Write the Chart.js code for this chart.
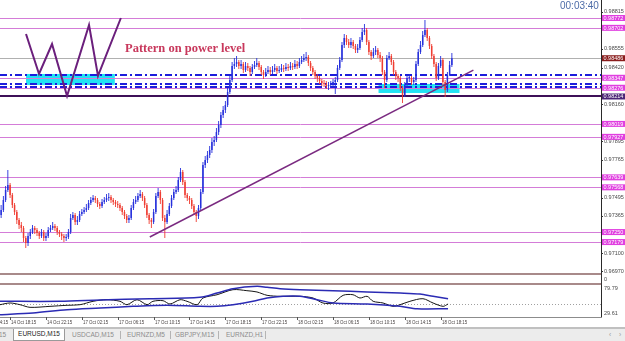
<!DOCTYPE html>
<html><head><meta charset="utf-8">
<script src="https://cdn.jsdelivr.net/npm/chart.js@4.4.1/dist/chart.umd.min.js"></script>
<style>
html,body{margin:0;padding:0;background:#fff;width:625px;height:341px;overflow:hidden;position:relative;font-family:"Liberation Sans",Arial,sans-serif}
canvas{position:absolute;left:0}
#main{top:0}
#osc{top:285px}
.sep{position:absolute;left:0;width:601px;height:2px;background:#a88a8a}
.vline{position:absolute;left:601px;top:273px;width:1px;height:12px;background:#333}
#clock{position:absolute;left:560px;top:1px;font:10px "Liberation Sans";color:#4d6ca8;line-height:10px}
#note{position:absolute;left:125px;top:42px;font:bold 12.5px "Liberation Serif";color:#c8385c;white-space:nowrap;line-height:13px}
#zero{position:absolute;left:604px;top:276px;font:5.5px "Liberation Sans";color:#444}
#tabbar{position:absolute;left:0;top:327px;width:625px;height:12px;background:#ececec;border-top:2px solid #c0c0c0}
.tab{position:absolute;top:1px;height:10px;font:6.5px "Liberation Sans";line-height:10px;color:#8c8c8c;white-space:nowrap}
.tsep{position:absolute;top:2px;width:1px;height:8px;background:#b4b4b4}
#active{left:13px;width:50px;top:0;height:11px;background:#fff;border-left:1px solid #9a9a9a;border-right:1px solid #9a9a9a;border-bottom:1px solid #9a9a9a;color:#222;text-align:center}
</style></head><body>
<canvas id="main" width="625" height="275"></canvas>
<canvas id="osc" width="625" height="44"></canvas>
<div class="sep" style="top:273px"></div>
<div class="sep" style="top:283px"></div>
<div class="vline"></div>
<div id="clock">00:03:40</div>
<div id="note">Pattern on power level</div>
<div id="zero">0</div>
<div id="tabbar">
  <div class="tab" style="left:-1px">15</div>
  <div class="tab" id="active">EURUSD,M15</div>
  <div class="tab" style="left:72px">USDCAD,M15</div>
  <div class="tsep" style="left:120px"></div>
  <div class="tab" style="left:127px">EURNZD,M5</div>
  <div class="tsep" style="left:170px"></div>
  <div class="tab" style="left:175px">GBPJPY,M15</div>
  <div class="tsep" style="left:218px"></div>
  <div class="tab" style="left:226px">EURNZD,H1</div>
  <div class="tsep" style="left:265px"></div>
  <div class="tab" style="left:609px;color:#999">‹</div>
  <div class="tab" style="left:619px;color:#999">›</div>
</div>
<script>
// ---------- price data (EURUSD M15), one entry per bar ----------
const opens = [
0.97371,0.97407,0.97478,0.97549,0.97585,0.97514,0.97442,0.97393,0.97336,0.97300,
0.97279,0.97208,0.97172,0.97222,0.97250,0.97279,0.97265,0.97243,0.97222,0.97250,
0.97208,0.97222,0.97265,0.97279,0.97293,0.97279,0.97250,0.97236,0.97222,0.97208,
0.97215,0.97250,0.97350,0.97371,0.97322,0.97336,0.97378,0.97393,0.97407,0.97421,
0.97457,0.97478,0.97492,0.97478,0.97450,0.97435,0.97464,0.97478,0.97492,0.97499,
0.97478,0.97464,0.97450,0.97442,0.97421,0.97393,0.97364,0.97336,0.97350,0.97421,
0.97464,0.97478,0.97506,0.97521,0.97492,0.97442,0.97371,0.97336,0.97322,0.97393,
0.97506,0.97535,0.97478,0.97350,0.97322,0.97378,0.97435,0.97492,0.97535,0.97549,
0.97620,0.97677,0.97606,0.97514,0.97492,0.97478,0.97435,0.97393,0.97364,0.97421,
0.97535,0.97727,0.97762,0.97798,0.97834,0.97890,0.97905,0.97961,0.98011,0.98082,
0.98118,0.98153,0.98246,0.98331,0.98431,0.98445,0.98459,0.98431,0.98445,0.98402,
0.98431,0.98417,0.98388,0.98424,0.98438,0.98452,0.98424,0.98388,0.98367,0.98388,
0.98402,0.98388,0.98402,0.98417,0.98395,0.98402,0.98417,0.98409,0.98424,0.98417,
0.98431,0.98424,0.98445,0.98431,0.98459,0.98473,0.98488,0.98495,0.98452,0.98417,
0.98388,0.98360,0.98345,0.98324,0.98310,0.98303,0.98289,0.98296,0.98303,0.98317,
0.98331,0.98417,0.98473,0.98580,0.98630,0.98601,0.98580,0.98601,0.98573,0.98545,
0.98559,0.98616,0.98672,0.98687,0.98601,0.98530,0.98502,0.98530,0.98545,0.98509,
0.98488,0.98388,0.98331,0.98488,0.98502,0.98459,0.98388,0.98360,0.98345,0.98274,
0.98225,0.98296,0.98345,0.98345,0.98317,0.98331,0.98445,0.98530,0.98580,0.98651,
0.98687,0.98630,0.98573,0.98502,0.98445,0.98345,0.98431,0.98473,0.98317,0.98260,
0.98367,0.98438];
const highs = [
0.97442,0.97506,0.97578,0.97691,0.97599,0.97528,0.97457,0.97407,0.97350,0.97322,
0.97293,0.97222,0.97243,0.97272,0.97300,0.97293,0.97279,0.97258,0.97272,0.97265,
0.97243,0.97286,0.97300,0.97322,0.97307,0.97293,0.97265,0.97250,0.97236,0.97236,
0.97272,0.97378,0.97393,0.97386,0.97364,0.97400,0.97414,0.97428,0.97450,0.97478,
0.97499,0.97514,0.97506,0.97492,0.97464,0.97485,0.97499,0.97521,0.97528,0.97514,
0.97492,0.97478,0.97471,0.97457,0.97435,0.97407,0.97378,0.97371,0.97442,0.97485,
0.97506,0.97528,0.97549,0.97535,0.97506,0.97457,0.97386,0.97350,0.97414,0.97528,
0.97563,0.97549,0.97492,0.97371,0.97407,0.97457,0.97514,0.97556,0.97578,0.97642,
0.97706,0.97691,0.97620,0.97528,0.97506,0.97492,0.97450,0.97407,0.97442,0.97556,
0.97748,0.97791,0.97826,0.97862,0.97919,0.97933,0.97990,0.98040,0.98104,0.98146,
0.98182,0.98274,0.98360,0.98459,0.98488,0.98502,0.98473,0.98473,0.98459,0.98459,
0.98452,0.98431,0.98445,0.98466,0.98488,0.98466,0.98438,0.98402,0.98417,0.98431,
0.98424,0.98431,0.98445,0.98431,0.98431,0.98445,0.98438,0.98452,0.98445,0.98459,
0.98452,0.98473,0.98466,0.98488,0.98502,0.98516,0.98530,0.98509,0.98466,0.98431,
0.98402,0.98374,0.98360,0.98338,0.98331,0.98324,0.98317,0.98324,0.98338,0.98353,
0.98438,0.98495,0.98601,0.98658,0.98651,0.98623,0.98630,0.98616,0.98587,0.98587,
0.98637,0.98701,0.98729,0.98701,0.98616,0.98545,0.98559,0.98573,0.98559,0.98530,
0.98502,0.98402,0.98509,0.98530,0.98516,0.98473,0.98402,0.98374,0.98360,0.98289,
0.98317,0.98367,0.98374,0.98360,0.98353,0.98466,0.98552,0.98608,0.98680,0.98758,
0.98701,0.98644,0.98587,0.98516,0.98459,0.98452,0.98502,0.98488,0.98331,0.98388,
0.98466,0.98523];
const lows = [
0.97350,0.97393,0.97464,0.97535,0.97492,0.97421,0.97371,0.97307,0.97272,0.97250,
0.97179,0.97137,0.97151,0.97201,0.97236,0.97236,0.97222,0.97201,0.97208,0.97186,
0.97186,0.97208,0.97250,0.97265,0.97258,0.97229,0.97215,0.97194,0.97179,0.97186,
0.97201,0.97236,0.97336,0.97300,0.97300,0.97322,0.97364,0.97378,0.97393,0.97407,
0.97442,0.97464,0.97457,0.97428,0.97414,0.97421,0.97450,0.97464,0.97471,0.97457,
0.97442,0.97428,0.97421,0.97400,0.97371,0.97343,0.97314,0.97314,0.97336,0.97407,
0.97450,0.97464,0.97492,0.97471,0.97421,0.97350,0.97307,0.97279,0.97307,0.97378,
0.97492,0.97450,0.97329,0.97208,0.97307,0.97364,0.97421,0.97478,0.97521,0.97535,
0.97606,0.97585,0.97492,0.97471,0.97450,0.97414,0.97371,0.97322,0.97343,0.97407,
0.97521,0.97706,0.97741,0.97777,0.97812,0.97862,0.97890,0.97940,0.97990,0.98061,
0.98097,0.98139,0.98232,0.98317,0.98409,0.98424,0.98409,0.98409,0.98381,0.98388,
0.98395,0.98360,0.98374,0.98409,0.98424,0.98402,0.98367,0.98338,0.98353,0.98374,
0.98367,0.98374,0.98388,0.98374,0.98381,0.98388,0.98388,0.98395,0.98395,0.98402,
0.98402,0.98409,0.98409,0.98417,0.98445,0.98459,0.98466,0.98431,0.98395,0.98367,
0.98338,0.98317,0.98303,0.98289,0.98281,0.98267,0.98260,0.98274,0.98281,0.98232,
0.98317,0.98402,0.98459,0.98559,0.98580,0.98559,0.98559,0.98552,0.98523,0.98523,
0.98545,0.98601,0.98651,0.98580,0.98509,0.98473,0.98488,0.98509,0.98488,0.98459,
0.98367,0.98274,0.98317,0.98473,0.98438,0.98367,0.98331,0.98317,0.98253,0.98168,
0.98210,0.98274,0.98317,0.98296,0.98296,0.98317,0.98431,0.98516,0.98566,0.98637,
0.98608,0.98552,0.98481,0.98424,0.98324,0.98331,0.98417,0.98296,0.98210,0.98246,
0.98360,0.98424];
const closes = [
0.97407,0.97478,0.97549,0.97585,0.97514,0.97442,0.97393,0.97336,0.97300,0.97279,
0.97208,0.97172,0.97222,0.97250,0.97279,0.97265,0.97243,0.97222,0.97250,0.97208,
0.97222,0.97265,0.97279,0.97293,0.97279,0.97250,0.97236,0.97222,0.97208,0.97215,
0.97250,0.97350,0.97371,0.97322,0.97336,0.97378,0.97393,0.97407,0.97421,0.97457,
0.97478,0.97492,0.97478,0.97450,0.97435,0.97464,0.97478,0.97492,0.97499,0.97478,
0.97464,0.97450,0.97442,0.97421,0.97393,0.97364,0.97336,0.97350,0.97421,0.97464,
0.97478,0.97506,0.97521,0.97492,0.97442,0.97371,0.97336,0.97322,0.97393,0.97506,
0.97535,0.97478,0.97350,0.97322,0.97378,0.97435,0.97492,0.97535,0.97549,0.97620,
0.97677,0.97606,0.97514,0.97492,0.97478,0.97435,0.97393,0.97364,0.97421,0.97535,
0.97727,0.97762,0.97798,0.97834,0.97890,0.97905,0.97961,0.98011,0.98082,0.98118,
0.98153,0.98246,0.98331,0.98431,0.98445,0.98459,0.98431,0.98445,0.98402,0.98431,
0.98417,0.98388,0.98424,0.98438,0.98452,0.98424,0.98388,0.98367,0.98388,0.98402,
0.98388,0.98402,0.98417,0.98395,0.98402,0.98417,0.98409,0.98424,0.98417,0.98431,
0.98424,0.98445,0.98431,0.98459,0.98473,0.98488,0.98495,0.98452,0.98417,0.98388,
0.98360,0.98345,0.98324,0.98310,0.98303,0.98289,0.98296,0.98303,0.98317,0.98331,
0.98417,0.98473,0.98580,0.98630,0.98601,0.98580,0.98601,0.98573,0.98545,0.98559,
0.98616,0.98672,0.98687,0.98601,0.98530,0.98502,0.98530,0.98545,0.98509,0.98488,
0.98388,0.98331,0.98488,0.98502,0.98459,0.98388,0.98360,0.98345,0.98274,0.98225,
0.98296,0.98345,0.98345,0.98317,0.98331,0.98445,0.98530,0.98580,0.98651,0.98687,
0.98630,0.98573,0.98502,0.98445,0.98345,0.98431,0.98473,0.98317,0.98260,0.98367,
0.98438,0.98486];

// ---------- levels / drawings ----------
const pinkLevels = [0.98772,0.98702,0.98347,0.98276,0.98019,0.97927,0.97639,0.97568,0.97250,0.97179];
const blueDashLevels = [0.98367,0.98303,0.98281];
const supportLevel = 0.98214;
const bidPrice = 0.98486;
const priceTicks = [0.98815,0.98555,0.98420,0.98160,0.97895,0.97765,0.97495,0.97365,0.97100,0.96970];
const zoneStartBar = [11.1,168.3];
const zoneEndBar = [50.7,204.4];
const zoneTop = [0.98374,0.98303];
const zoneBottom = [0.98296,0.98239];
const zigBars = [11.1,16.9,22.7,29.4,39.2,43.2,53.4];
const zigPrices = [0.98658,0.98374,0.98587,0.98217,0.98722,0.98360,0.98772];
const trendBars = [66.3,210.6];
const trendPrices = [0.97215,0.98402];

// ---------- time axis ----------
const timeTickBars = [-8.5,4,20,36,52,68,84,100,116,132,148,164,180,196];
const timeTickLabels = ['14 Oct 14:15','14 Oct 18:15','14 Oct 22:15','17 Oct 02:15','17 Oct 06:15','17 Oct 10:15','17 Oct 14:15','17 Oct 18:15','17 Oct 22:15','18 Oct 02:15','18 Oct 06:15','18 Oct 10:15','18 Oct 14:15','18 Oct 18:15'];

// ---------- oscillator window ----------
const upperBandBars = [-0.5,26.3,44.1,66.4,88.7,96.3,103.4,114.1,118.6,124.4,133.3,148.0,163.2,177.9,186.8,192.6,199.3];
const upperBandVals = [53.1,53.1,55.7,58.3,61.1,69.7,78.4,83.2,81.2,78.4,76.4,74.4,71.8,69.7,67.7,63.1,58.3];
const lowerBandBars = [-0.5,14.2,29.4,44.1,58.8,74.0,88.7,96.3,103.4,112.3,118.6,125.7,133.3,140.9,148.0,163.2,177.9,185.5,199.3];
const lowerBandVals = [26.2,29.6,36.2,39.6,43.0,45.1,43.0,43.0,46.3,53.1,59.7,63.1,63.1,56.3,49.7,47.7,43.0,38.2,38.2];
const oscBars = [-0.5,4.0,8.4,12.9,21.8,29.4,35.2,41.0,47.2,53.0,56.1,60.6,65.1,67.7,72.2,75.3,79.8,82.9,87.4,90.0,96.3,103.4,109.6,114.1,118.6,124.4,133.3,139.1,143.5,148.0,152.5,156.9,160.0,163.2,165.9,170.3,174.8,177.9,182.3,188.1,192.6,197.1,199.3];
const oscVals = [46.3,49.7,46.3,41.0,43.0,45.1,46.3,53.1,56.3,53.1,46.3,56.3,46.3,53.1,54.3,47.7,56.3,53.1,46.3,59.7,66.3,76.4,74.4,71.8,65.1,63.1,63.1,59.7,49.7,49.7,65.1,66.3,59.7,63.1,53.1,49.7,43.0,46.3,53.1,58.3,49.7,43.0,47.7];
const oscMidLevel = 48;
const oscAxisLabels = [79.79,29.61];

// ---------- styling ----------
const UP = '#2630dc', DOWN = '#ef3d32';
const candleColor = c => (c.dataIndex !== undefined && closes[c.dataIndex] < opens[c.dataIndex]) ? DOWN : UP;
const X_MIN = -0.5, X_MAX = 267.5;

const mainDeco = {
  id: 'mainDeco',
  beforeDatasetsDraw(chart) {
    const {ctx, chartArea: a, scales: {x, y}} = chart;
    ctx.save();
    ctx.fillStyle = '#22e3f3';
    zoneStartBar.forEach((b, i) => {
      const x1 = x.getPixelForValue(b), x2 = x.getPixelForValue(zoneEndBar[i]);
      const y1 = y.getPixelForValue(zoneTop[i]), y2 = y.getPixelForValue(zoneBottom[i]);
      ctx.fillRect(x1, y1, x2 - x1, y2 - y1);
    });
    const hline = (p, color, w, dash) => {
      const yy = Math.round(y.getPixelForValue(p)) + (w % 2 ? 0.5 : 0);
      ctx.beginPath(); ctx.setLineDash(dash || []); ctx.strokeStyle = color; ctx.lineWidth = w;
      ctx.moveTo(a.left, yy); ctx.lineTo(a.right, yy); ctx.stroke();
    };
    hline(bidPrice, '#b0b0b0', 1);
    pinkLevels.forEach(p => hline(p, '#d47cd8', 1));
    hline(supportLevel, '#3e1058', 2);
    blueDashLevels.forEach(p => hline(p, '#1c1cdc', 2, [7, 3, 2, 3]));
    ctx.restore();
  },
  afterDraw(chart) {
    const {ctx, chartArea: a, scales: {y}} = chart;
    ctx.save();
    ctx.font = '5.5px "Liberation Sans"'; ctx.textBaseline = 'middle'; ctx.textAlign = 'left';
    const ax = a.right;
    priceTicks.forEach(p => {
      const yy = y.getPixelForValue(p);
      ctx.fillStyle = '#333'; ctx.fillRect(ax, Math.round(yy), 2, 1);
      ctx.fillStyle = '#4a4a4a'; ctx.fillText(p.toFixed(5), ax + 3, yy);
    });
    const box = (p, bg) => {
      const yy = y.getPixelForValue(p);
      ctx.fillStyle = bg; ctx.fillRect(ax + 1, yy - 3, 23, 6);
      ctx.fillStyle = '#fff'; ctx.fillText(p.toFixed(5), ax + 2.5, yy + 0.3);
    };
    pinkLevels.forEach(p => box(p, '#e03ee0'));
    box(supportLevel, '#4b2577');
    box(bidPrice, '#8a1c1c');
    ctx.restore();
  }
};

new Chart(document.getElementById('main'), {
  type: 'bar',
  data: {
    datasets: [
      { type: 'line', data: zigBars.map((b, i) => ({x: b, y: zigPrices[i]})), borderColor: '#6b1f7c', borderWidth: 2, pointRadius: 0, tension: 0, order: 0 },
      { type: 'line', data: trendBars.map((b, i) => ({x: b, y: trendPrices[i]})), borderColor: '#7a2a80', borderWidth: 1.5, pointRadius: 0, tension: 0, order: 0 },
      { data: opens.map((o, i) => ({x: i, y: [o, closes[i]]})), backgroundColor: candleColor, maxBarThickness: 1.5, minBarLength: 1, grouped: false, categoryPercentage: 1, barPercentage: 1, borderWidth: 0, inflateAmount: 0, order: 1 },
      { data: lows.map((l, i) => ({x: i, y: [l, highs[i]]})), backgroundColor: candleColor, maxBarThickness: 0.9, grouped: false, categoryPercentage: 1, barPercentage: 1, borderWidth: 0, inflateAmount: 0, order: 2 }
    ]
  },
  options: {
    responsive: false, animation: false, events: [],
    layout: { padding: { left: 0, right: 0, top: 0, bottom: 2 } },
    plugins: { legend: { display: false }, tooltip: { enabled: false } },
    scales: {
      x: { type: 'linear', min: X_MIN, max: X_MAX, offset: false, display: false },
      y: { type: 'linear', position: 'right', min: 0.96959, max: 0.98900, beginAtZero: false,
           grid: { display: false }, ticks: { display: false },
           border: { display: true, color: '#2a2a2a', width: 1 },
           afterFit(s) { s.width = 24; } }
    }
  },
  plugins: [mainDeco]
});

const oscDeco = {
  id: 'oscDeco',
  beforeDatasetsDraw(chart) {
    const {ctx, chartArea: a, scales: {y}} = chart;
    ctx.save();
    const yy = Math.round(y.getPixelForValue(oscMidLevel)) + 0.5;
    ctx.strokeStyle = '#a0a0a0'; ctx.lineWidth = 1; ctx.setLineDash([1, 2]);
    ctx.beginPath(); ctx.moveTo(a.left, yy); ctx.lineTo(a.right, yy); ctx.stroke();
    ctx.restore();
  },
  afterDraw(chart) {
    const {ctx, chartArea: a, scales: {x, y}} = chart;
    ctx.save();
    ctx.fillStyle = '#8c8c8c'; ctx.fillRect(0, a.bottom, a.right + 1, 1);
    ctx.textBaseline = 'middle'; ctx.textAlign = 'left';
    timeTickBars.forEach((b, i) => {
      const px = Math.round(x.getPixelForValue(b));
      ctx.fillStyle = '#555'; ctx.fillRect(px, a.bottom, 1, 3);
      ctx.save(); ctx.translate(px + 1, a.bottom + 5.5); ctx.scale(0.8, 1);
      ctx.font = '5.5px "Liberation Sans"'; ctx.fillStyle = '#4a4444';
      ctx.fillText(timeTickLabels[i], 0, 0); ctx.restore();
    });
    ctx.font = '5.5px "Liberation Sans"'; ctx.fillStyle = '#4a4a4a';
    oscAxisLabels.forEach(v => ctx.fillText(v.toFixed(2), a.right + 3, y.getPixelForValue(v)));
    ctx.restore();
  }
};

new Chart(document.getElementById('osc'), {
  type: 'line',
  data: {
    datasets: [
      { data: upperBandBars.map((b, i) => ({x: b, y: upperBandVals[i]})), borderColor: '#2b2bb4', borderWidth: 1.5, pointRadius: 0, tension: 0.3 },
      { data: lowerBandBars.map((b, i) => ({x: b, y: lowerBandVals[i]})), borderColor: '#2b2bb4', borderWidth: 1.5, pointRadius: 0, tension: 0.3 },
      { data: oscBars.map((b, i) => ({x: b, y: oscVals[i]})), borderColor: '#141414', borderWidth: 1, pointRadius: 0, tension: 0.3 }
    ]
  },
  options: {
    responsive: false, animation: false, events: [],
    layout: { padding: { left: 0, right: 0, top: 0, bottom: 12 } },
    plugins: { legend: { display: false }, tooltip: { enabled: false } },
    scales: {
      x: { type: 'linear', min: X_MIN, max: X_MAX, display: false },
      y: { position: 'right', min: 21.6, max: 85.8, grid: { display: false }, ticks: { display: false },
           border: { display: true, color: '#2a2a2a', width: 1 },
           afterFit(s) { s.width = 24; } }
    }
  },
  plugins: [oscDeco]
});
</script>
</body></html>
